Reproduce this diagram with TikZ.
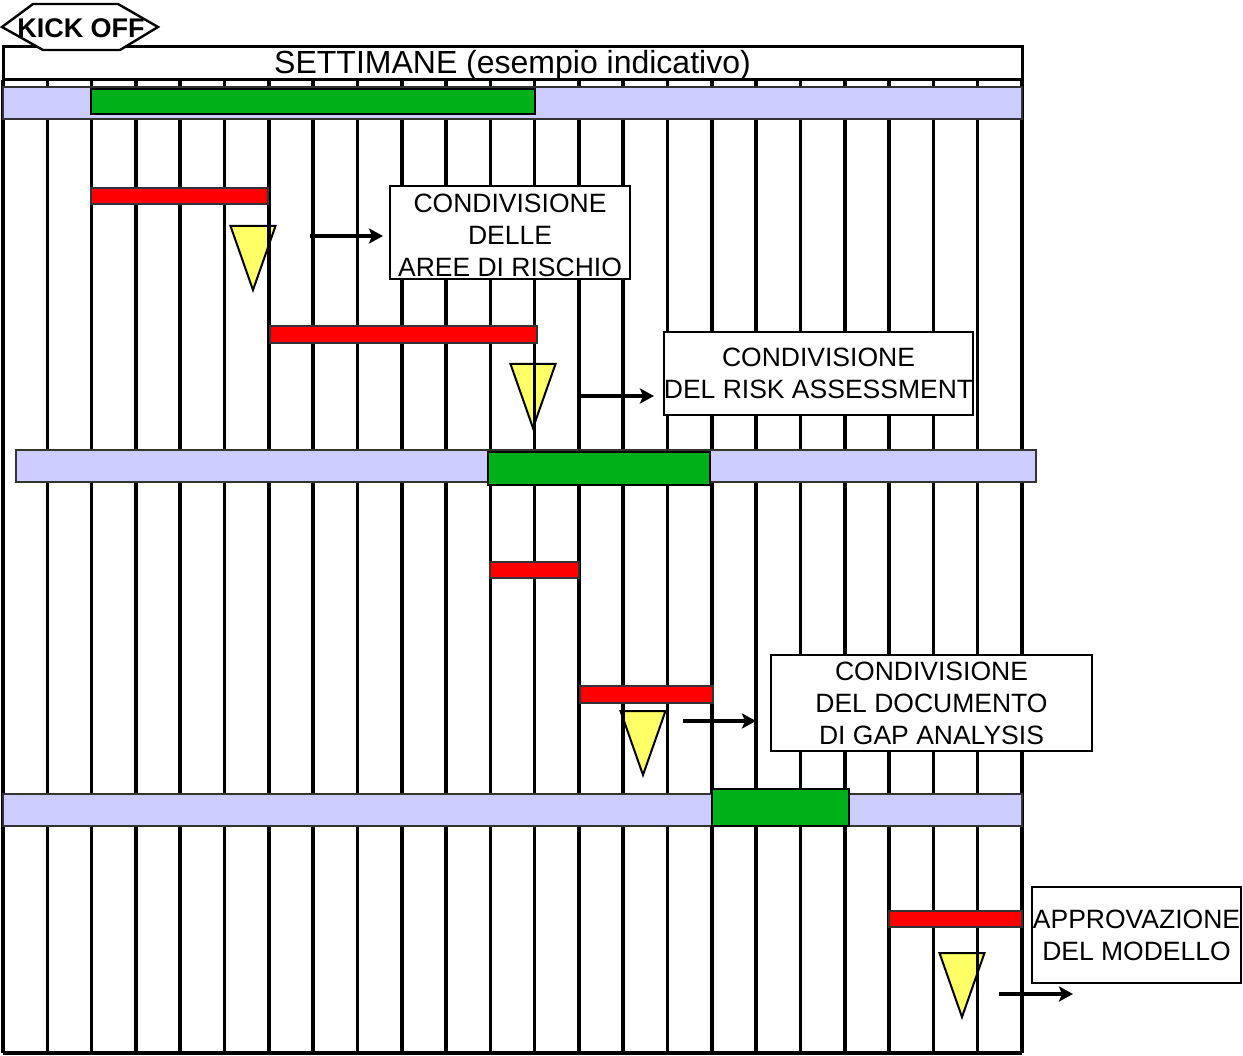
\documentclass[tikz,border=0pt]{standalone}
\usepackage{fontspec}
\setmainfont{Liberation Sans}
\usepackage{tikz}
\usetikzlibrary{arrows.meta}
\definecolor{lavender}{HTML}{CCCCFF}
\definecolor{phase}{HTML}{00B018}
\definecolor{task}{HTML}{FF0000}
\definecolor{mile}{HTML}{FFFF66}
\definecolor{edge}{HTML}{333333}

\begin{document}
\begin{tikzpicture}[x=1pt,y=-1pt,
  gridline/.style={line width=3.6pt},
  band/.style={fill=lavender,draw=edge,line width=1.8pt},
  phasebar/.style={fill=phase,draw=black,line width=2.2pt},
  taskbar/.style={fill=task,draw=edge,line width=1.2pt},
  mstone/.style={fill=mile,draw=black,line width=2pt,line join=miter},
  note/.style={draw=black,fill=white,line width=2.4pt,inner sep=0pt,align=center,
               font=\fontsize{26.5}{32}\selectfont},
  goes/.style={-{Stealth[length=14pt,width=15pt,inset=3pt]},line width=4.6pt}]
\useasboundingbox (0,0) rectangle (1243,1056);
% milestones
\foreach \mx/\my in {253/226,533/364,643/711,962/953}
  \draw[mstone] ({\mx-22.5},\my) -- ({\mx+22.5},\my) -- (\mx,{\my+64}) -- cycle;
% weeks
\foreach \i in {0,...,23}
  \draw[gridline] ({3+\i*44.3},80) -- ({3+\i*44.3},1053);
\draw[line width=4pt] (3,1053) -- (1022,1053);
% phases
\draw[band] (3,87) rectangle (1022,119);
\draw[band] (16,450) rectangle (1036,482);
\draw[band] (3,794) rectangle (1022,826);
\draw[phasebar] (91,89) rectangle (535,114);
\draw[phasebar] (488,452) rectangle (710,485);
\draw[phasebar] (712,789) rectangle (849,826);
% activities
\draw[taskbar] (91,188) rectangle (268,204);
\draw[taskbar] (270,326) rectangle (537,343);
\draw[taskbar] (490,562) rectangle (579,578);
\draw[taskbar] (580,686) rectangle (713,703);
\draw[taskbar] (889,911) rectangle (1022,927);
% header
\node[draw=black,fill=white,line width=3pt,minimum width=1019pt,minimum height=33pt,
      inner sep=0pt] (weeks) at (512.5,63.5) {};
\node[inner sep=0pt,font=\fontsize{32}{34}\selectfont] (weekstxt) at (512.5,65.5)
  {SETTIMANE (esempio indicativo)};
\draw[fill=white,line width=2.4pt] (2,27) -- (33,4) -- (118,4) -- (158,27) -- (120,50)
  -- (43,50) -- cycle;
\node[inner sep=0pt,font=\bfseries\fontsize{27}{30}\selectfont] (kickoff) at (81,28.5)
  {KICK OFF};
% deliverables
\node[note,minimum width=240pt,minimum height=93pt] (aree) at (510,232.5)
  {\rule{0pt}{24.5pt}CONDIVISIONE\\DELLE\\AREE DI RISCHIO};
\node[note,minimum width=307pt,minimum height=83pt] (risk) at (818.5,373.5)
  {CONDIVISIONE\\DEL RISK ASSESSMENT};
\node[note,minimum width=321pt,minimum height=96pt] (gap) at (931.5,703)
  {CONDIVISIONE\\DEL DOCUMENTO\\DI GAP ANALYSIS};
\node[note,minimum width=209pt,minimum height=96pt] (modello) at (1136.5,935)
  {APPROVAZIONE\\DEL MODELLO};
\coordinate (g1) at (310,236);  \coordinate (h1) at (383,236);
\coordinate (g2) at (580,396);  \coordinate (h2) at (654,396);
\coordinate (g3) at (683,721);  \coordinate (h3) at (756,721);
\coordinate (g4) at (999,994);  \coordinate (h4) at (1073,994);
\draw[goes] (g1) -- (h1);
\draw[goes] (g2) -- (h2);
\draw[goes] (g3) -- (h3);
\draw[goes] (g4) -- (h4);
\end{tikzpicture}
\end{document}
